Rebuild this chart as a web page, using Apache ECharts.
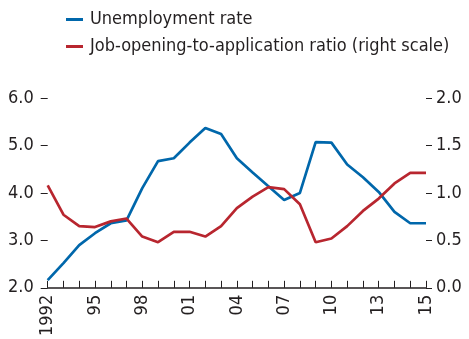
<!DOCTYPE html>
<html>
<head>
<meta charset="utf-8">
<script src="https://cdn.jsdelivr.net/npm/echarts@6/dist/echarts.min.js"></script>
<style>
  html, body { margin: 0; padding: 0; background: #fff; }
  #chart { width: 469px; height: 339px; }
</style>
</head>
<body>
<div id="chart"></div>
<script>
// 类目（每年一个刻度）
var years = ['1992', '1993', '1994', '1995', '1996', '1997', '1998', '1999', '2000',
    '2001', '2002', '2003', '2004', '2005', '2006', '2007', '2008', '2009', '2010',
    '2011', '2012', '2013', '2014', '2015', '2016'];
// 显示的刻度标签，每三个类目一个
var tickLabels = ['1992', '95', '98', '01', '04', '07', '10', '13', '15'];

var unemployment = [2.16, 2.52, 2.90, 3.15, 3.36, 3.42, 4.10, 4.67, 4.73, 5.06, 5.37, 5.24,
    4.73, 4.43, 4.14, 3.85, 4.00, 5.07, 5.06, 4.60, 4.33, 4.02, 3.60, 3.36, 3.36];
var jobRatio = [1.08, 0.77, 0.65, 0.64, 0.70, 0.73, 0.54, 0.48, 0.59, 0.59, 0.54, 0.65,
    0.84, 0.96, 1.06, 1.04, 0.88, 0.48, 0.52, 0.65, 0.81, 0.94, 1.10, 1.21, 1.21];

var leftTicks = [2, 6, 1];     // min, max, interval
var rightTicks = [0, 2, 0.5];

(function () {
    var myChart = echarts.init(document.getElementById('chart'));
    var font = '"DejaVu Sans Condensed", "Liberation Sans Narrow", sans-serif';
    var textColor = '#231f20';

    var option = {
        animation: false,
        textStyle: { fontFamily: font },
        legend: {
            orient: 'vertical',
            left: 66,
            top: 9,
            padding: 0,
            icon: 'rect',
            itemWidth: 17,
            itemHeight: 3,
            itemGap: 6,
            textStyle: {
                fontFamily: font,
                fontSize: 18,
                color: textColor,
                lineHeight: 21,
                padding: [0, 0, 0, 2]
            },
            data: ['Unemployment rate', 'Job-opening-to-application ratio (right scale)']
        },
        grid: {
            left: 47.7,
            right: 43,
            top: 98,
            bottom: 45
        },
        xAxis: {
            type: 'category',
            boundaryGap: false,
            data: years,
            axisLine: { lineStyle: { color: '#231f20', width: 1.5 } },
            axisTick: {
                inside: true,
                length: 7,
                interval: 0,
                lineStyle: { color: '#231f20', width: 1 }
            },
            axisLabel: {
                rotate: 90,
                margin: 7,
                interval: function (i) { return i % 3 === 0; },
                formatter: function (v, i) { return tickLabels[i / 3]; },
                fontFamily: font,
                fontSize: 18,
                color: textColor
            },
            splitLine: { show: false }
        },
        yAxis: [
            {
                type: 'value',
                min: leftTicks[0],
                max: leftTicks[1],
                interval: leftTicks[2],
                axisLine: { show: false },
                axisTick: { show: true, length: 7, lineStyle: { color: '#231f20' } },
                axisLabel: {
                    margin: 14,
                    fontFamily: font,
                    fontSize: 18,
                    color: textColor,
                    formatter: function (v) { return v.toFixed(1); }
                },
                splitLine: { show: false }
            },
            {
                type: 'value',
                position: 'right',
                min: rightTicks[0],
                max: rightTicks[1],
                interval: rightTicks[2],
                axisLine: { show: false },
                axisTick: { show: true, length: 6, lineStyle: { color: '#231f20' } },
                axisLabel: {
                    margin: 10,
                    fontFamily: font,
                    fontSize: 18,
                    color: textColor,
                    formatter: function (v) { return v.toFixed(1); }
                },
                splitLine: { show: false }
            }
        ],
        series: [
            {
                name: 'Unemployment rate',
                type: 'line',
                yAxisIndex: 0,
                data: unemployment,
                showSymbol: false,
                symbol: 'none',
                itemStyle: { color: '#0067ab' },
                lineStyle: { color: '#0067ab', width: 2.7 }
            },
            {
                name: 'Job-opening-to-application ratio (right scale)',
                type: 'line',
                yAxisIndex: 1,
                data: jobRatio,
                showSymbol: false,
                symbol: 'none',
                itemStyle: { color: '#b8262f' },
                lineStyle: { color: '#b8262f', width: 2.7 }
            }
        ]
    };
    myChart.setOption(option);
    window.addEventListener('resize', function () {
        myChart.resize();
    });
})();
</script>
</body>
</html>
